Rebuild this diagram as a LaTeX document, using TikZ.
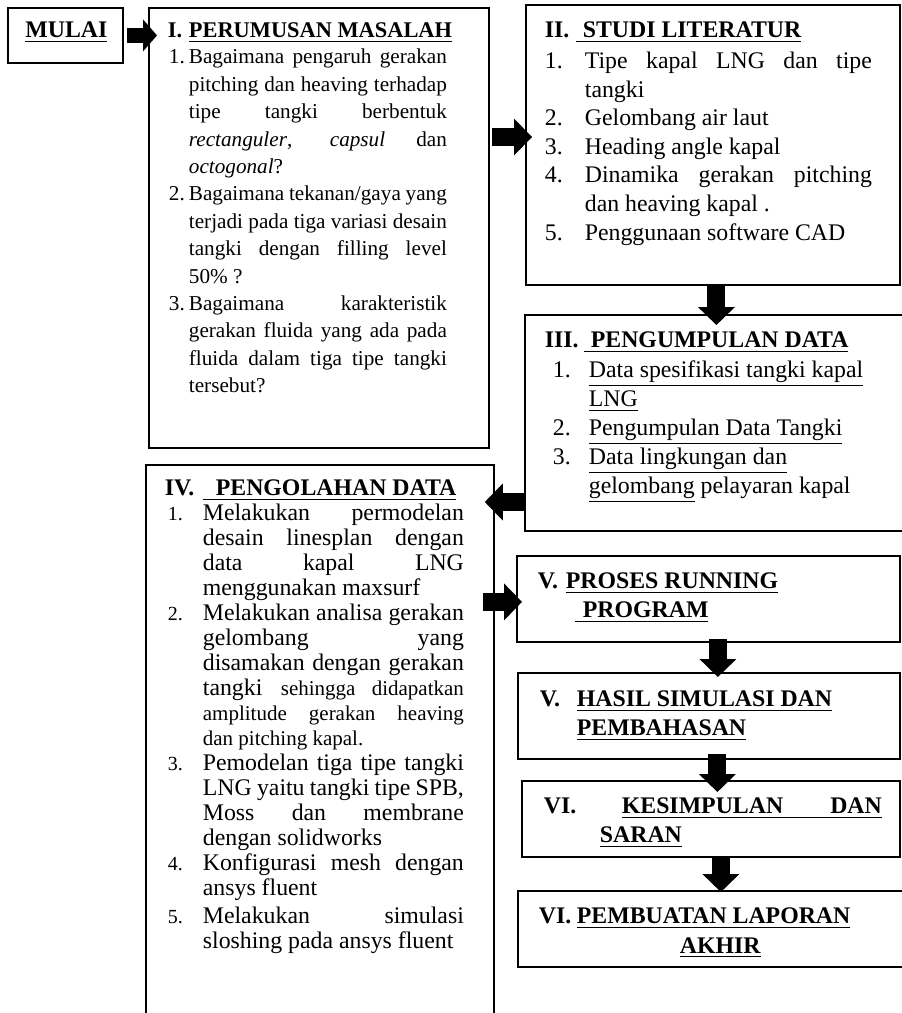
\documentclass[tikz,border=0pt]{standalone}
\usepackage{fontspec}
\setmainfont{Liberation Serif}
\usetikzlibrary{arrows.meta}
\tolerance=10000
\hbadness=10000

\begin{document}
\begin{tikzpicture}[x=0.5pt, y=-0.5pt,
    kotak/.style={draw, line width=0.9pt, inner sep=0pt, anchor=north west},
    panah/.style={line width=9pt, -{Triangle[length=9pt, width=18.5pt, line width=0pt]}},
    panahkecil/.style={line width=7.5pt, -{Triangle[length=7pt, width=16pt, line width=0pt]}}]
    \useasboundingbox (0,0) rectangle (901,1013);

    % mulai
    \node[kotak] (mulai) at (7,7) {\parbox[c][27.5pt][t]{57.5pt}{\centering\fontsize{11.9pt}{14pt}\selectfont\bfseries
        \rule{0pt}{15pt}\hspace{1pt}\underline{MULAI}}};

    % I. perumusan masalah
    \node[kotak] (rumusan) at (148,7) {\parbox[c][220pt][t]{170pt}{%
        \fontsize{10.6pt}{13.7pt}\selectfont \leftskip=20pt \rightskip=21pt
        \noindent\rule{0pt}{15pt}\llap{\makebox[10.5pt][l]{\fontsize{11.2pt}{13.7pt}\selectfont\bfseries I.}}{\fontsize{11.2pt}{13.7pt}\selectfont\bfseries\underline{PERUMUSAN MASALAH}}\par
        \vspace{-0.7pt}
        \noindent\llap{\makebox[10pt][l]{1.}}Bagaimana pengaruh gerakan\linebreak pitching dan heaving terhadap\linebreak tipe tangki berbentuk\linebreak \textit{rectanguler}, \textit{capsul} dan\linebreak \textit{octogonal}?\par
        \noindent\llap{\makebox[10pt][l]{2.}}Bagaimana tekanan/gaya yang\linebreak terjadi pada tiga variasi desain\linebreak tangki dengan filling level\linebreak 50\% ?\par
        \noindent\llap{\makebox[10pt][l]{3.}}Bagaimana karakteristik\linebreak gerakan fluida yang ada pada\linebreak fluida dalam tiga tipe tangki\linebreak tersebut?\par}};

    % II. studi literatur
    \node[kotak] (literatur) at (525,4) {\parbox[c][140pt][t]{187pt}{%
        \fontsize{11.9pt}{14.3pt}\selectfont \leftskip=29.5pt \rightskip=14pt
        \noindent\rule{0pt}{16.5pt}\hspace*{-20pt}\makebox[15.5pt][l]{\bfseries II.}\underline{\bfseries\hspace{3.5pt}STUDI LITERATUR}\par
        \vspace{1pt}
        \noindent\llap{\makebox[20pt][l]{1.}}Tipe kapal LNG dan tipe\linebreak tangki\par
        \noindent\llap{\makebox[20pt][l]{2.}}Gelombang air laut\par
        \noindent\llap{\makebox[20pt][l]{3.}}Heading angle kapal\par
        \noindent\llap{\makebox[20pt][l]{4.}}Dinamika gerakan pitching\linebreak dan heaving kapal .\par
        \noindent\llap{\makebox[20pt][l]{5.}}Penggunaan software CAD\par}};

    % III. pengumpulan data
    \node[kotak] (data) at (524,314) {\parbox[c][108pt][t]{192.5pt}{%
        \raggedright\fontsize{11.9pt}{14.5pt}\selectfont \leftskip=32pt
        \noindent\rule{0pt}{16.5pt}\hspace*{-22pt}\makebox[19.5pt][l]{\bfseries III.}\underline{\bfseries\hspace{3.5pt}PENGUMPULAN DATA}\par
        \vspace{0.5pt}
        \noindent\llap{\makebox[18pt][l]{1.}}\underline{Data spesifikasi tangki kapal}\\
        \underline{LNG}\par
        \noindent\llap{\makebox[18pt][l]{2.}}\underline{Pengumpulan Data Tangki}\par
        \noindent\llap{\makebox[18pt][l]{3.}}\underline{Data lingkungan dan}\\
        \underline{gelombang} pelayaran kapal\par}};

    % IV. pengolahan data
    \node[kotak] (olah) at (145,464) {\parbox[c][280pt][t]{174pt}{%
        \fontsize{11.9pt}{12.5pt}\selectfont \leftskip=28.5pt \rightskip=15pt
        \noindent\rule{0pt}{15.5pt}\hspace*{-19pt}\makebox[19pt][l]{\bfseries IV.}\underline{\bfseries\hspace{6.5pt}PENGOLAHAN DATA}\par
        \noindent\llap{\makebox[17.5pt][l]{\fontsize{10pt}{12pt}\selectfont 1.}}Melakukan permodelan\linebreak desain linesplan dengan\linebreak data kapal LNG\linebreak menggunakan maxsurf\par
        \noindent\llap{\makebox[17.5pt][l]{\fontsize{10pt}{12pt}\selectfont 2.}}Melakukan analisa gerakan\linebreak gelombang yang\linebreak disamakan dengan gerakan\linebreak tangki {\fontsize{10.5pt}{12pt}\selectfont sehingga didapatkan\linebreak amplitude gerakan heaving\linebreak dan pitching kapal.}\par
        \noindent\llap{\makebox[17.5pt][l]{\fontsize{10pt}{12pt}\selectfont 3.}}Pemodelan tiga tipe tangki\linebreak LNG yaitu tangki tipe SPB,\linebreak Moss dan membrane\linebreak dengan solidworks\par
        \noindent\llap{\makebox[17.5pt][l]{\fontsize{10pt}{12pt}\selectfont 4.}}Konfigurasi mesh dengan\linebreak ansys fluent\par
        \vspace{1.5pt}
        \noindent\llap{\makebox[17.5pt][l]{\fontsize{10pt}{12pt}\selectfont 5.}}Melakukan simulasi\linebreak sloshing pada ansys fluent\par}};

    % V. proses running program
    \node[kotak] (running) at (516,555) {\parbox[c][43pt][t]{191.5pt}{%
        \raggedright\fontsize{11.9pt}{14.5pt}\selectfont\bfseries
        \rule{0pt}{16.5pt}\hspace*{10.5pt}\makebox[14pt][l]{V.}\underline{PROSES RUNNING}\\
        \hspace*{29pt}\underline{\hspace{4pt}PROGRAM}}};

    % V. hasil simulasi
    \node[kotak] (hasil) at (517,672) {\parbox[c][43pt][t]{191pt}{%
        \raggedright\fontsize{11.9pt}{14.5pt}\selectfont\bfseries
        \rule{0pt}{17pt}\hspace*{11pt}\makebox[18.5pt][l]{V.}\underline{HASIL SIMULASI DAN}\\
        \hspace*{29.5pt}\underline{PEMBAHASAN}}};

    % VI. kesimpulan
    \node[kotak] (simpulan) at (521,780) {\parbox[c][38pt][t]{189pt}{%
        \raggedright\fontsize{11.9pt}{14.5pt}\selectfont\bfseries
        \rule{0pt}{16.5pt}\hspace*{11pt}\makebox[39pt][l]{VI.}\underline{\makebox[130pt][s]{KESIMPULAN DAN}}\\
        \hspace*{39pt}\underline{SARAN}}};

    % VI. laporan akhir
    \node[kotak] (laporan) at (517,890) {\parbox[c][38pt][t]{194pt}{%
        \raggedright\fontsize{11.9pt}{15pt}\selectfont\bfseries
        \rule{0pt}{16.5pt}\hspace*{10.5pt}\makebox[19pt][l]{VI.}\underline{PEMBUATAN LAPORAN}\\
        \hspace*{81pt}\underline{AKHIR}}};

    \coordinate (k1) at ([yshift=-65pt]rumusan.north east);
    \coordinate (k2) at ([xshift=1.75pt]literatur.south);
    \coordinate (k3) at ([yshift=-94pt]data.north west);
    \coordinate (k4) at ([yshift=-1.5pt]running.west);
    \coordinate (k5) at ([xshift=4.75pt]running.south);
    \coordinate (k6) at ([xshift=4.25pt]hasil.south);
    \coordinate (k7) at ([xshift=5pt]simpulan.south);

    \draw[panahkecil, shorten <=1.5pt, shorten >=-4.5pt] (mulai.east) -- (mulai.east -| rumusan.west);
    \draw[panah, shorten <=1pt, shorten >=-3.5pt] (k1) -- (k1 -| literatur.west);
    \draw[panah, shorten >=-5.5pt] (k2) -- (k2 |- data.north);
    \draw[panah, shorten >=-5pt] (k3) -- (k3 -| olah.east);
    \draw[panah, shorten <=-6pt, shorten >=-3pt] (k4 -| olah.east) -- (k4);
    \draw[panah, shorten <=-2pt, shorten >=-2.5pt] (k5) -- (k5 |- hasil.north);
    \draw[panah, shorten <=-3pt, shorten >=-6pt] (k6) -- (k6 |- simpulan.north);
    \draw[panah, shorten <=-1pt, shorten >=-1pt] (k7) -- (k7 |- laporan.north);
\end{tikzpicture}
\end{document}
